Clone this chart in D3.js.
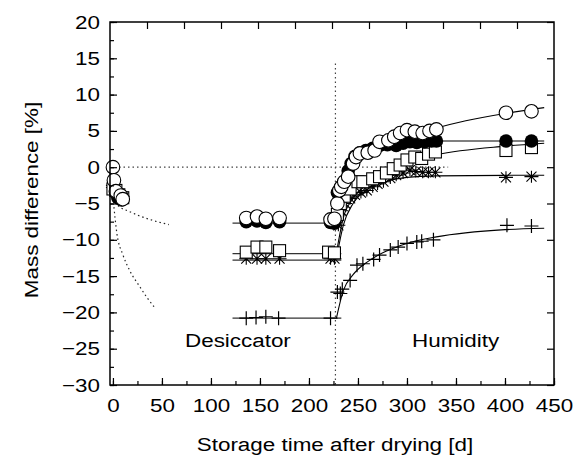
<!DOCTYPE html>
<html>
<head>
<meta charset="utf-8">
<script src="https://cdn.jsdelivr.net/npm/d3@7"></script>
<style>
  body { margin: 0; background: #fff; }
  text { font-family: "Liberation Sans", Arial, sans-serif; fill: #000; }
</style>
</head>
<body>
<script>
// Données : [temps (j), différence de masse (%)]
const openCircles = [
  [0, 0], [1, -1.8], [3, -3.3], [8, -3.9], [10, -4.4],
  [136, -7.0], [147, -6.8], [156, -7.1], [170, -7.0], [222, -7.2],
  [226, -7.1], [229, -5.0], [231, -3.2], [233, -2.7], [236, -2.0], [240, -1.3],
  [245, 0.5], [248, 1.4], [252, 1.9], [260, 2.0], [267, 2.3], [272, 3.5],
  [281, 3.7], [287, 4.2], [293, 4.7], [300, 5.1], [308, 4.9], [316, 4.7],
  [323, 5.0], [330, 5.2], [401, 7.5], [427, 7.7]
];
const filledCircles = [
  [5, -4.2], [9, -4.5],
  [136, -7.5], [147, -7.4], [156, -7.6], [170, -7.5], [222, -7.6],
  [226, -7.7], [229, -3.5], [232, -2.8], [235, -2.2], [240, -0.5], [243, 0.5],
  [247, 1.5], [252, 2.0], [258, 2.3], [265, 2.6], [272, 3.0], [280, 3.1],
  [289, 3.0], [296, 3.3], [303, 3.5], [310, 3.4], [318, 3.5], [325, 3.6],
  [330, 3.6], [401, 3.6], [427, 3.6]
];
const squares = [
  [0, -3.0], [3, -3.2], [6, -3.8], [10, -4.2],
  [136, -11.7], [147, -11.0], [156, -11.0], [170, -11.5], [220, -11.7],
  [226, -11.8], [229, -6.5], [232, -5.0], [236, -4.0], [242, -3.0], [250, -2.0],
  [255, -2.0], [265, -1.6], [272, -1.3], [279, -0.8], [286, -0.2], [293, 0.3],
  [300, 1.0], [308, 1.4], [315, 1.2], [322, 1.8], [329, 2.1], [401, 2.3], [427, 2.7]
];
const asterisks = [
  [0, -2.8], [3, -3.5], [10, -4.3],
  [136, -12.6], [147, -12.6], [156, -12.6], [170, -12.6], [222, -12.6],
  [226, -12.6], [230, -8.0], [233, -6.0], [237, -5.0], [242, -4.3], [247, -3.8],
  [253, -3.5], [259, -3.2], [265, -2.7], [270, -2.3], [276, -2.0], [283, -1.5],
  [289, -1.1], [296, -0.8], [303, -0.4], [309, -0.6], [316, -0.7], [322, -0.7],
  [329, -0.7], [401, -1.4], [427, -1.3]
];
const pluses = [
  [0, -2.5], [3, -3.0], [10, -4.0],
  [136, -20.8], [146, -20.7], [156, -20.6], [169, -20.8], [222, -20.8],
  [229, -17.2], [232, -17.4], [234, -16.8], [242, -15.6], [249, -13.5],
  [255, -13.3], [266, -12.7], [272, -12.1], [283, -11.4], [291, -11.0],
  [300, -10.5], [310, -10.3], [315, -10.2], [327, -10.0], [402, -8.0], [427, -8.1]
];

// Niveaux constants pendant le stockage au dessiccateur
const desiccatorStart = 122;
const desiccatorEnd = 233;
const desiccatorLevels = [-7.7, -11.9, -12.8, -20.8];

// Courbes d'ajustement (phase humidité)
const fitOpenCircles = [[228, -7.3], [235, -3.5], [245, 0.2], [260, 1.9], [269, 2.6], [285, 3.5], [300, 4.2], [330, 5.4], [360, 6.4], [400, 7.4], [440, 8.2]];
const fitFilledCircles = [[228, -7.5], [235, -2.5], [245, 0.5], [260, 2.3], [280, 3.2], [300, 3.5], [330, 3.6], [440, 3.6]];
const fitSquares = [[228, -11.8], [235, -7.0], [245, -4.3], [260, -2.3], [280, -0.6], [300, 0.6], [330, 1.7], [400, 2.9], [440, 3.3]];
const fitAsterisks = [[228, -12.6], [235, -8.0], [245, -5.0], [260, -3.0], [280, -1.9], [300, -1.4], [330, -1.2], [440, -1.1]];
const fitPluses = [[228, -20.8], [235, -17.0], [245, -14.8], [260, -13.0], [280, -11.5], [300, -10.5], [330, -9.6], [400, -8.6], [440, -8.4]];

// Extrapolations en pointillés (phase de séchage)
const dryUpper = [[2, -4.8], [7, -5.5], [15, -6.0], [27, -6.7], [40, -7.3], [57, -7.9]];
const dryLower = [[1, -5.5], [4, -9.1], [10, -12.0], [17, -14.2], [27.6, -16.5], [35, -18.0], [43, -19.4]];

const zeroLine = [[-3, 0], [342, 0]];
const switchLine = [[227, 14.3], [227, -30]];

const xTicks = [0, 50, 100, 150, 200, 250, 300, 350, 400, 450];
const yTicks = [-30, -25, -20, -15, -10, -5, 0, 5, 10, 15, 20];

const W = 576, H = 457;
const mLeft = 110, mRight = 554, mTop = 22, mBottom = 385;
const stretch = 1.18; // le texte de l'original est plus large que haut
const fs = "19px";

const svg = d3.select("body").append("svg")
  .attr("width", W).attr("height", H);

const x = d3.scaleLinear().domain([-3, 450]).range([mLeft, mRight]);
const y = d3.scaleLinear().domain([-30, 20]).range([mBottom, mTop]);

const line = d3.line().x(d => x(d[0])).y(d => y(d[1]));
const smooth = d3.line().x(d => x(d[0])).y(d => y(d[1])).curve(d3.curveMonotoneX);

// lignes pointillées
[zeroLine, switchLine].forEach(p => {
  svg.append("path").attr("d", line(p)).attr("fill", "none")
    .attr("stroke", "#444").attr("stroke-width", 1.2).attr("stroke-dasharray", "1.5,3");
});
[dryUpper, dryLower].forEach(p => {
  svg.append("path").attr("d", smooth(p)).attr("fill", "none")
    .attr("stroke", "#222").attr("stroke-width", 1.2).attr("stroke-dasharray", "1.5,3");
});

// niveaux du dessiccateur
desiccatorLevels.forEach(v => {
  svg.append("path").attr("d", line([[desiccatorStart, v], [desiccatorEnd, v]]))
    .attr("stroke", "#333").attr("stroke-width", 1.3);
});

// courbes d'ajustement
[fitPluses, fitAsterisks, fitSquares, fitFilledCircles, fitOpenCircles].forEach(p => {
  svg.append("path").attr("d", smooth(p)).attr("fill", "none")
    .attr("stroke", "#000").attr("stroke-width", 1.1);
});

// symboles
const g = svg.append("g");
g.selectAll(".plus").data(pluses).join("path")
  .attr("transform", d => `translate(${x(d[0])},${y(d[1])})`)
  .attr("d", "M-7,0H7M0,-7V7").attr("stroke", "#000").attr("stroke-width", 1.2);

g.selectAll(".ast").data(asterisks).join("path")
  .attr("transform", d => `translate(${x(d[0])},${y(d[1])})`)
  .attr("d", "M-7,0H7M-5,-5L5,5M-5,5L5,-5M0,-6V6").attr("stroke", "#000").attr("stroke-width", 1.1);

g.selectAll(".sq").data(squares).join("rect")
  .attr("x", d => x(d[0]) - 6).attr("y", d => y(d[1]) - 6)
  .attr("width", 12).attr("height", 12)
  .attr("fill", "#fff").attr("stroke", "#000").attr("stroke-width", 1.1);

g.selectAll(".fc").data(filledCircles).join("circle")
  .attr("cx", d => x(d[0])).attr("cy", d => y(d[1])).attr("r", 6.8)
  .attr("fill", "#000");

g.selectAll(".oc").data(openCircles).join("circle")
  .attr("cx", d => x(d[0])).attr("cy", d => y(d[1])).attr("r", 6.8)
  .attr("fill", "#fff").attr("stroke", "#000").attr("stroke-width", 1.1);

// cadre et graduations
svg.append("rect").attr("x", mLeft).attr("y", mTop)
  .attr("width", mRight - mLeft).attr("height", mBottom - mTop)
  .attr("fill", "none").attr("stroke", "#000").attr("stroke-width", 1.5);

svg.append("g").attr("transform", `translate(0,${mBottom})`)
  .call(d3.axisBottom(x).tickValues(d3.range(0, 451, 25)).tickSize(-4).tickFormat(""));
const xMaj = svg.append("g").attr("transform", `translate(0,${mBottom})`)
  .call(d3.axisBottom(x).tickValues(xTicks).tickSize(-7).tickPadding(14).tickFormat(d3.format("d")));
svg.append("g").attr("transform", `translate(${mLeft},0)`)
  .call(d3.axisLeft(y).tickValues(d3.range(-30, 20.1, 2.5)).tickSize(-4).tickFormat(""));
const yMaj = svg.append("g").attr("transform", `translate(${mLeft},0)`)
  .call(d3.axisLeft(y).tickValues(yTicks).tickSize(-7).tickPadding(10).tickFormat(d3.format("d")));
svg.append("g").attr("transform", `translate(${mRight},0)`)
  .call(d3.axisRight(y).tickValues(yTicks).tickSize(-7).tickFormat(""));
const topScale = d3.scaleLinear().domain([0, 12]).range([mLeft, mRight]);
svg.append("g").attr("transform", `translate(0,${mTop})`)
  .call(d3.axisTop(topScale).tickValues(d3.range(1, 12)).tickSize(-7).tickFormat(""));

svg.selectAll(".domain").remove();
svg.selectAll(".tick line").attr("stroke", "#000").attr("stroke-width", 1.2);
svg.selectAll(".tick text").style("font-size", fs)
  .attr("transform", `scale(${stretch},1)`);
yMaj.selectAll(".tick text").attr("x", -10 / stretch);

// textes étirés le long de la ligne de base
function label(px, py, txt, anchor, rot) {
  svg.append("g").attr("transform", `translate(${px},${py})` + (rot ? ` rotate(${rot})` : "") + ` scale(${stretch},1)`)
    .append("text").attr("text-anchor", anchor).style("font-size", fs).text(txt);
}
label((mLeft + mRight) / 2 + 3, 451, "Storage time after drying [d]", "middle");
label(38, 200, "Mass difference [%]", "middle", -90);
label(185, 347, "Desiccator", "start");
label(412, 347, "Humidity", "start");
</script>
</body>
</html>
